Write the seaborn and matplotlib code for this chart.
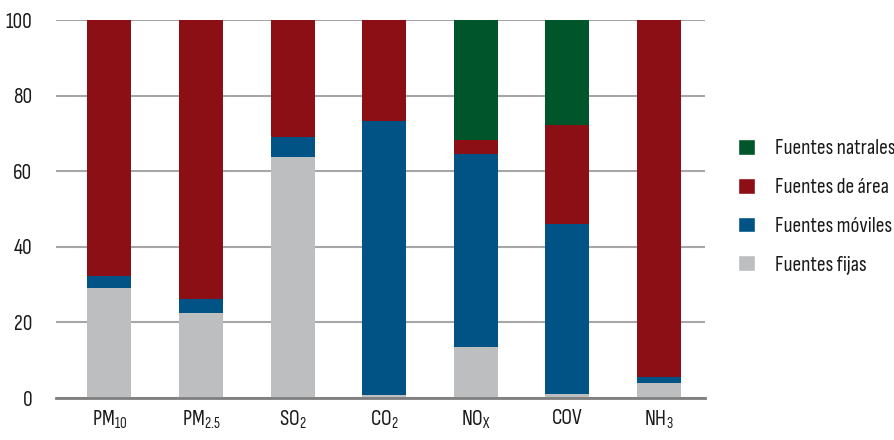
import matplotlib
matplotlib.use("Agg")
import matplotlib.pyplot as plt
import seaborn as sns
import pandas as pd
import numpy as np
from matplotlib.patches import Patch

categories = ["PM$_{10}$", "PM$_{2.5}$", "SO$_{2}$", "CO$_{2}$", "NO$_{X}$", "COV", "NH$_{3}$"]
fijas = [29.1, 22.5, 63.8, 0.8, 13.5, 1.1, 4.0]
moviles = [3.3, 3.7, 5.2, 72.5, 51.1, 45.0, 1.6]
area = [67.6, 73.8, 31.0, 26.7, 3.7, 26.1, 94.4]
naturales = [0.0, 0.0, 0.0, 0.0, 31.7, 27.8, 0.0]
series_names = ["Fuentes fijas", "Fuentes móviles", "Fuentes de área", "Fuentes natrales"]
colors = ["#BDBEC0", "#005384", "#8B0F14", "#00552A"]
yticks = [0, 20, 40, 60, 80, 100]

FONT = "Sofia Sans Condensed"
sns.set_theme(style="white")
plt.rcParams['font.family'] = [FONT, 'DejaVu Sans']
plt.rcParams['mathtext.fontset'] = 'custom'
plt.rcParams['mathtext.rm'] = FONT
plt.rcParams['mathtext.it'] = FONT
plt.rcParams['mathtext.bf'] = FONT
plt.rcParams['mathtext.default'] = 'rm'

fig = plt.figure(figsize=(8.95, 4.4), dpi=100)
ax = fig.add_axes([56/895, 1-398/440, (705-56)/895, (398-20)/440])

df = pd.DataFrame({"cat": categories, series_names[0]: fijas, series_names[1]: moviles,
                   series_names[2]: area, series_names[3]: naturales})
bottom = np.zeros(len(categories))
for name, col in zip(series_names, colors):
    vals = df[name].values
    ax.bar(np.arange(len(categories)), vals, bottom=bottom, width=0.48, color=col,
           zorder=3, linewidth=0)
    bottom = bottom + vals

ax.set_xlim(-0.58, 6.5)
ax.set_ylim(0, 100)
ax.set_yticks(yticks)
ax.set_yticklabels([str(v) for v in yticks])
ax.set_xticks(np.arange(len(categories)))
ax.set_xticklabels(categories)
ax.yaxis.grid(True, color="#A6A6A6", linewidth=1.5, zorder=0)
ax.tick_params(axis="both", length=0, labelsize=15.5, colors="#1a1a1a")
ax.tick_params(axis="y", pad=17)
ax.tick_params(axis="x", pad=8)
for s in ["left", "right", "top"]:
    ax.spines[s].set_visible(False)
ax.spines["bottom"].set_color("#7F7F7F")
ax.spines["bottom"].set_linewidth(2)
ax.spines["bottom"].set_zorder(4)

handles = [Patch(facecolor=c, label=n) for n, c in zip(series_names, colors)][::-1]
fig.legend(handles=handles, loc="center left", bbox_to_anchor=(719/895, 1-207/440),
           frameon=False, fontsize=15.5, handlelength=0.75, handleheight=0.75,
           labelspacing=0.9, handletextpad=0.95, labelcolor="#1a1a1a")

fig.savefig("out.png", dpi=100)
